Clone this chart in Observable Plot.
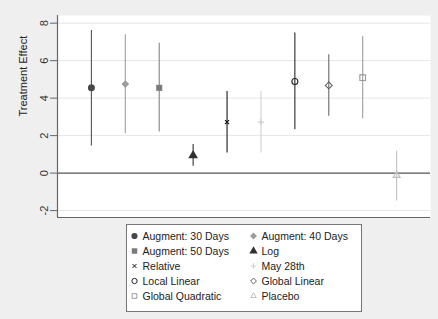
<!DOCTYPE html>
<html>
<head>
<meta charset="utf-8">
<script src="https://cdn.jsdelivr.net/npm/d3@7"></script>
<script src="https://cdn.jsdelivr.net/npm/@observablehq/plot@0.6"></script>
<style>
  html, body { margin: 0; padding: 0; background: #efefef; }
  #wrap { position: relative; width: 438px; height: 319px; font-family: "Liberation Sans", Arial, sans-serif; }
  #chart svg { display: block; }
  #legend { position: absolute; left: 126px; top: 224px; }
</style>
</head>
<body>
<div id="wrap"><div id="chart"></div><div id="legend"></div></div>
<script>
// ---- data ----
const labels = ["Augment: 30 Days","Augment: 40 Days","Augment: 50 Days","Log","Relative","May 28th","Local Linear","Global Linear","Global Quadratic","Placebo"];
const order = [1, 2, 3, 4, 5, 6, 7, 8, 9, 10];
const estimates = [4.55, 4.75, 4.55, 0.94, 2.72, 2.72, 4.89, 4.68, 5.09, -0.12];
const lower = [1.44, 2.10, 2.19, 0.36, 1.07, 1.07, 2.31, 3.04, 2.90, -1.49];
const upper = [7.61, 7.38, 6.93, 1.53, 4.36, 4.36, 7.47, 6.31, 7.29, 1.16];
const yTicks = [-2, 0, 2, 4, 6, 8];
const yDomain = [-2.37, 8.41];
const xDomain = [0, 11];

// ---- styles ----
const colors = ["#484848","#9c9c9c","#7a7a7a","#303030","#111111","#cccccc","#262626","#606060","#9a9a9a","#bdbdbd"];
const lineColors = ["#5a5a5a","#a4a4a4","#8a8a8a","#3c3c3c","#222222","#d2d2d2","#333333","#707070","#a2a2a2","#c4c4c4"];
const symbols = ["circle","diamond2","square","triangle","times","plus","circle","diamond2","square","triangle2"];
const filled = [true, true, true, true, false, false, false, false, false, false];
const radii = [3.5, 3.5, 3.4, 3.6, 2.0, 2.2, 3.0, 3.1, 3.2, 3.4];

const idx = d3.range(labels.length);
const marks = [
  Plot.frame({fill: "white", stroke: null}),
  Plot.gridY(yTicks.filter(d => d !== 0), {stroke: "#e6e6e6", strokeOpacity: 1}),
  Plot.ruleY([0], {stroke: "#555", strokeWidth: 1.3}),
  Plot.ruleX([xDomain[0]], {stroke: "#666", strokeWidth: 1.2}),
  Plot.ruleY([yDomain[0]], {stroke: "#666", strokeWidth: 1.2}),
  Plot.axisY({ticks: yTicks, tickSize: 7, tickPadding: 3, tickRotate: -90, tickFormat: d => String(d),
              fontSize: 11, stroke: "#666", fill: "#333", label: null}),
  Plot.text(["Treatment Effect"], {frameAnchor: "left", dx: -34, rotate: -90, fontSize: 11, fill: "#222"})
];
for (const i of idx) {
  marks.push(Plot.ruleX([i], {x: j => order[j], y1: j => lower[j], y2: j => upper[j], stroke: lineColors[i], strokeWidth: 1.15}));
  marks.push(Plot.dot([i], {x: j => order[j], y: j => estimates[j], symbol: symbols[i], r: radii[i],
    fill: filled[i] ? colors[i] : "none", stroke: colors[i], strokeWidth: filled[i] ? 0 : 1.1}));
}

const chart = Plot.plot({
  width: 438, height: 222,
  marginTop: 15, marginBottom: 5, marginLeft: 57, marginRight: 8,
  style: {background: "transparent", fontFamily: "Liberation Sans, Arial, sans-serif"},
  x: {domain: xDomain, axis: null},
  y: {domain: yDomain, axis: null},
  marks
});
document.getElementById("chart").appendChild(chart);

// ---- legend ----
const symMap = {circle: d3.symbolCircle, diamond2: d3.symbolDiamond2, square: d3.symbolSquare,
  triangle: d3.symbolTriangle, times: d3.symbolTimes, plus: d3.symbolPlus, triangle2: d3.symbolTriangle2};
const lw = 236, lh = 88;
const lsvg = d3.select("#legend").append("svg").attr("width", lw).attr("height", lh)
  .style("display", "block");
lsvg.append("rect").attr("x", 0.5).attr("y", 0.5).attr("width", lw - 1).attr("height", lh - 1)
  .attr("fill", "white").attr("stroke", "#777");
const items = lsvg.selectAll("g").data(idx).join("g")
  .attr("transform", i => `translate(${(i % 2) ? 127.5 : 8.5},${12 + Math.floor(i / 2) * 15})`);
items.append("path")
  .attr("d", i => d3.symbol(symMap[symbols[i]], filled[i] ? 30 : ((symbols[i] === "times" || symbols[i] === "plus") ? 12 : 22))())
  .attr("fill", i => filled[i] ? colors[i] : "none")
  .attr("stroke", i => filled[i] ? "none" : colors[i])
  .attr("stroke-width", 1);
items.append("text").attr("x", 8).attr("dy", "0.36em")
  .attr("font-size", 10.5).attr("fill", "#222")
  .attr("font-family", "Liberation Sans, Arial, sans-serif")
  .text(i => labels[i]);
</script>
</body>
</html>
